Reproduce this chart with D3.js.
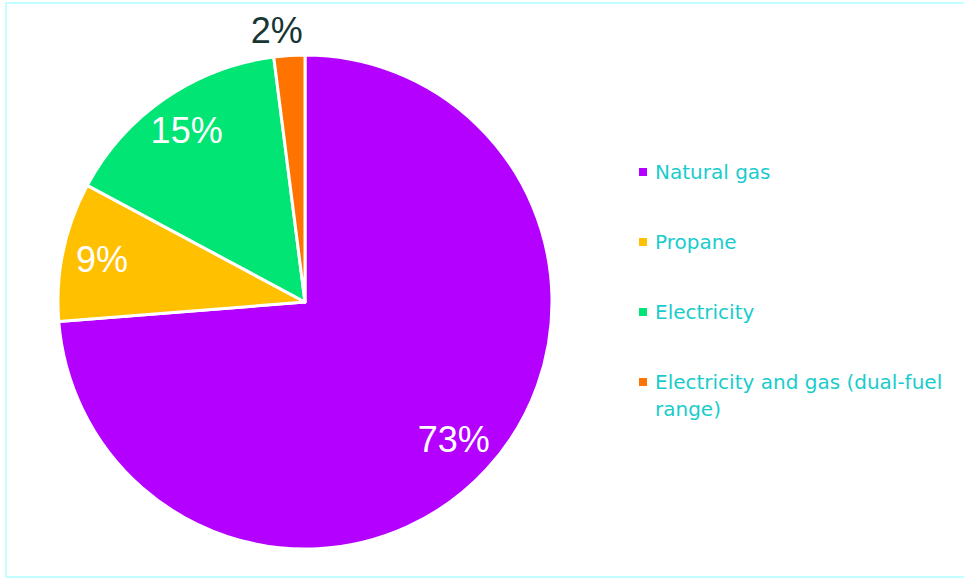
<!DOCTYPE html>
<html>
<head>
<meta charset="utf-8">
<script src="https://cdn.jsdelivr.net/npm/d3@7"></script>
<style>
  html, body { margin: 0; padding: 0; background: #ffffff; }
  svg { display: block; }
</style>
</head>
<body>
<svg id="chart" width="964" height="580"></svg>
<script>
// Kitchen range fuel shares (percent)
const categories = ["Natural gas", "Propane", "Electricity", "Electricity and gas (dual-fuel range)"];
const shares = [73, 9, 15, 2];
const colors = ["#b300ff", "#ffc000", "#00e574", "#ff7400"];
const labelColors = ["#ffffff", "#ffffff", "#ffffff", "#163636"];

const svg = d3.select("#chart");
const font = "'Liberation Sans', Arial, sans-serif";
const legendFont = "'DejaVu Sans', sans-serif";

// frame
svg.append("rect")
  .attr("x", 6).attr("y", 3).attr("width", 968).attr("height", 574)
  .attr("fill", "none").attr("stroke", "#c2ffff").attr("stroke-width", 2);

const cx = 305, cy = 302, r = 247;
const data = categories.map((c, i) => ({ name: c, value: shares[i], color: colors[i], lc: labelColors[i] }));

const pie = d3.pie().value(d => d.value).sort(null);
const arcs = pie(data);
const arc = d3.arc().innerRadius(0).outerRadius(r);

const g = svg.append("g").attr("transform", `translate(${cx},${cy})`);
g.selectAll("path.slice").data(arcs).join("path")
  .attr("class", "slice")
  .attr("d", arc)
  .attr("fill", d => d.data.color)
  .attr("stroke", "#ffffff")
  .attr("stroke-width", 3)
  .attr("stroke-linejoin", "round");

// value labels: inside for large slices, outside for the small one
const labelRadius = [0.82, 0.84, 0.845, 1.1];
const labelShift = [0, 0, 0, -11];
g.selectAll("text.val").data(arcs).join("text")
  .attr("class", "val")
  .attr("transform", (d, i) => {
    const a = (d.startAngle + d.endAngle) / 2;
    const rr = r * labelRadius[i];
    return `translate(${Math.sin(a) * rr + labelShift[i]},${-Math.cos(a) * rr})`;
  })
  .attr("text-anchor", "middle")
  .attr("dominant-baseline", "central")
  .attr("font-family", font)
  .attr("font-size", 36)
  .attr("fill", d => d.data.lc)
  .text(d => d.data.value + "%");

// legend
const legend = svg.append("g").attr("transform", "translate(639,172)");
const rowGap = 70;
const items = legend.selectAll("g.item").data(data).join("g")
  .attr("class", "item")
  .attr("transform", (d, i) => `translate(0,${i * rowGap})`);
items.append("rect")
  .attr("x", 0).attr("y", -4).attr("width", 8).attr("height", 8)
  .attr("fill", d => d.color);
const lines = [["Natural gas"], ["Propane"], ["Electricity"], ["Electricity and gas (dual-fuel", "range)"]];
items.append("text")
  .attr("x", 16).attr("y", 0)
  .attr("font-family", legendFont)
  .attr("font-size", 20)
  .attr("fill", "#19cccc")
  .selectAll("tspan").data((d, i) => lines[i]).join("tspan")
  .attr("x", 16)
  .attr("dy", (t, j) => j === 0 ? "0.35em" : "1.35em")
  .text(t => t);
</script>
</body>
</html>
